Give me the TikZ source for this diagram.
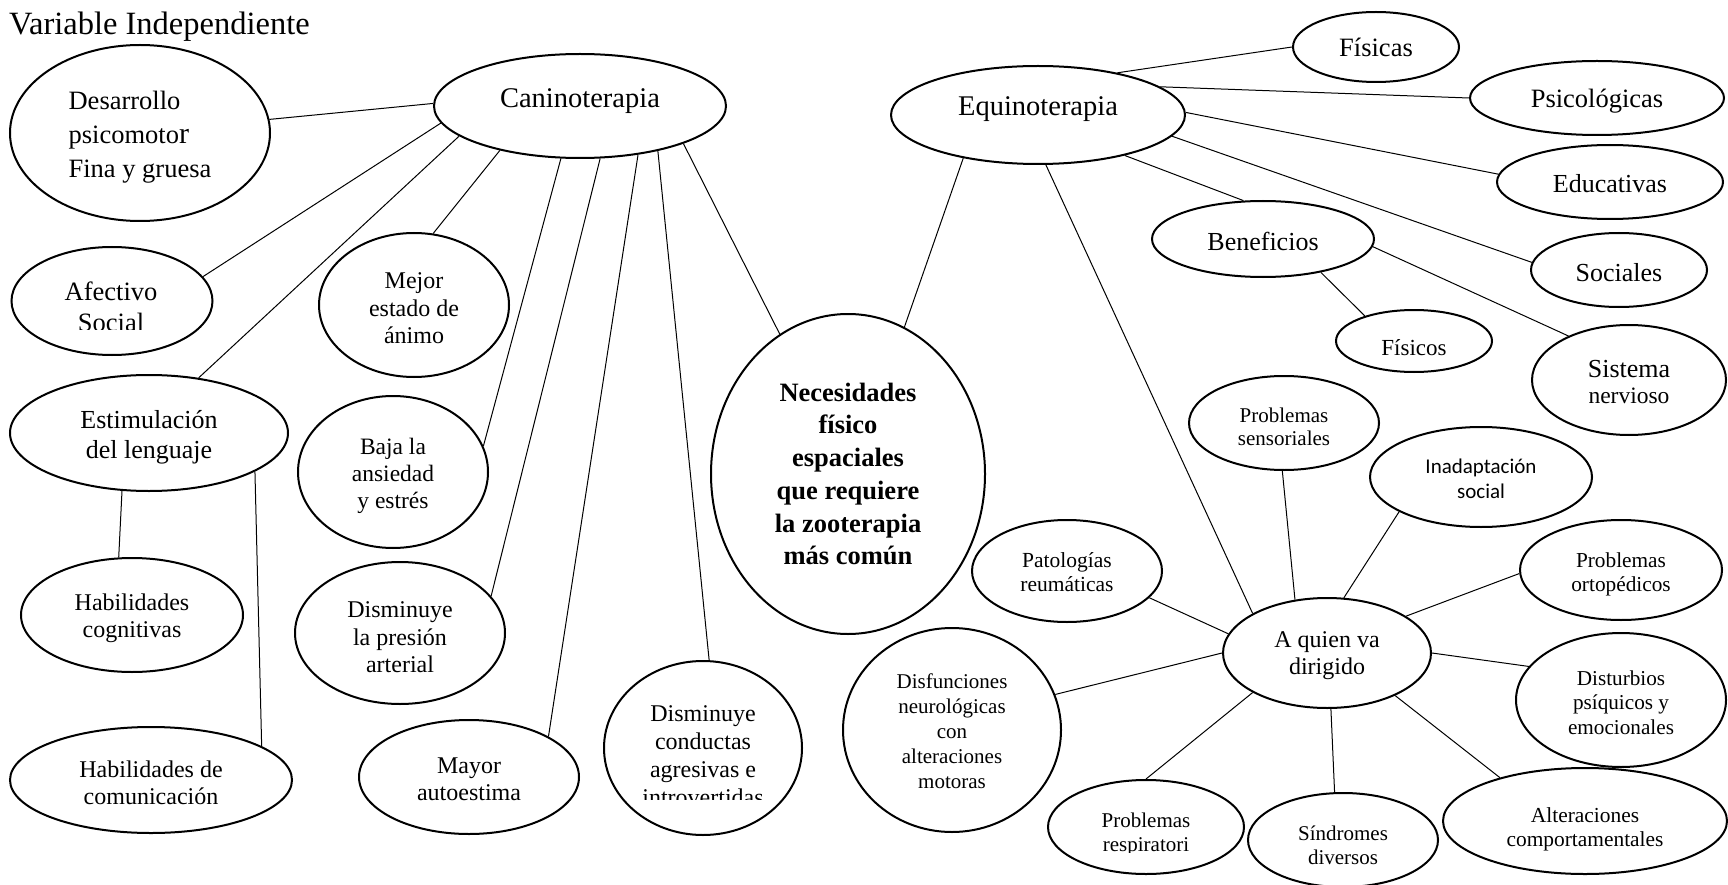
\documentclass[tikz,border=0pt]{standalone}
\usepackage{fontspec}
\setmainfont{Liberation Serif}
\newfontfamily\calibrifont{Carlito}
\usetikzlibrary{shapes.geometric}
\newcommand\myfs[2]{\fontsize{#1}{#2}\selectfont}
\begin{document}
\begin{tikzpicture}[x=1pt,y=-1pt,
  ell/.style={draw, ellipse, line width=2pt, inner sep=0pt},
  link/.style={line width=1pt},
  txt/.style={inner sep=0pt, align=center}]
\useasboundingbox[fill=white] (0,0) rectangle (1728,885);

\node[anchor=base west, inner sep=0pt, font=\myfs{32.5}{36}] (title) at (9,35) {Variable Independiente};

% ---------- Caninoterapia branch ----------
\node[ell, minimum width=260pt, minimum height=176pt] (D) at (140,133) {};
\node[txt, align=left, font=\myfs{26.5}{34}] (Dt) at (140,137.5) {Desarrollo\\psicomoto{\myfs{30}{34}r}\\Fina y gruesa};

\node[ell, minimum width=292pt, minimum height=104pt] (C) at (580,106) {};
\node[txt, font=\myfs{28.5}{32}] (Ct) at (580,101.5) {Caninoterapia};

\node[ell, minimum width=201pt, minimum height=108pt] (A) at (112,301) {};
\begin{scope}
\clip (0,0) rectangle (1728,329);
\node[txt, font=\myfs{26.5}{31}] (At) at (111,306.5) {Afectivo\\Social};
\end{scope}

\node[ell, minimum width=190pt, minimum height=144pt] (M) at (414,305) {};
\node[txt, font=\myfs{24}{27.5}] (Mt) at (414,308.5) {Mejor\\estado de\\ánimo};

\node[ell, minimum width=278pt, minimum height=116pt] (E) at (149,433) {};
\node[txt, font=\myfs{26}{29.5}] (Et) at (149,437.5) {Estimulación\\del lenguaje};

\node[ell, minimum width=222pt, minimum height=114pt] (HC) at (132,615) {};
\node[txt, font=\myfs{24}{27}] (HCt) at (132,618.5) {Habilidades\\cognitivas};

\node[ell, minimum width=282pt, minimum height=106pt] (HCom) at (151,780) {};
\node[txt, font=\myfs{24}{27}] (HComt) at (151,783) {Habilidades de\\comunicación};

\node[ell, minimum width=190pt, minimum height=152pt] (B) at (393,472) {};
\node[txt, font=\myfs{23.5}{27}] (Bt) at (393,475.5) {Baja la\\ansiedad\\y estrés};

\node[ell, minimum width=210pt, minimum height=142pt] (DP) at (400,633) {};
\node[txt, font=\myfs{24}{27.5}] (DPt) at (400,637.5) {Disminuye\\la presión\\arterial};

\node[ell, minimum width=220pt, minimum height=114pt] (MA) at (469,777) {};
\node[txt, font=\myfs{24}{27}] (MAt) at (469,779.5) {Mayor\\autoestima};

\node[ell, minimum width=198pt, minimum height=174pt] (DC) at (703,748) {};
\begin{scope}
\clip (0,0) rectangle (1728,799);
\node[txt, font=\myfs{24}{28}] (DCt) at (703,756) {Disminuye\\conductas\\agresivas e\\introvertidas};
\end{scope}

% ---------- centre ----------
\node[ell, minimum width=274pt, minimum height=320pt] (N) at (848,474) {};
\node[txt, font=\bfseries\myfs{26.5}{32.7}] (Nt) at (848,474) {Necesidades\\físico\\espaciales\\que requiere\\la zooterapia\\más común};

% ---------- Equinoterapia branch ----------
\node[ell, minimum width=294pt, minimum height=98pt] (EQ) at (1038,115) {};
\node[txt, font=\myfs{28.5}{32}] (EQt) at (1038,109.5) {Equinoterapia};

\node[ell, minimum width=166pt, minimum height=70pt] (F) at (1376,47) {};
\node[txt, font=\myfs{26.5}{30}] (Ft) at (1376,47) {Físicas};

\node[ell, minimum width=254pt, minimum height=74pt] (P) at (1597,98) {};
\node[txt, font=\myfs{26.5}{30}] (Pt) at (1597,101) {Psicológicas};

\node[ell, minimum width=226pt, minimum height=74pt] (ED) at (1610,182) {};
\node[txt, font=\myfs{26}{30}] (EDt) at (1610,184) {Educativas};

\node[ell, minimum width=176pt, minimum height=74pt] (S) at (1619,270) {};
\node[txt, font=\myfs{26}{30}] (St) at (1619,273) {Sociales};

\node[ell, minimum width=222pt, minimum height=76pt] (BE) at (1263,239) {};
\node[txt, font=\myfs{26}{30}] (BEt) at (1263,241) {Beneficios};

\node[ell, minimum width=156pt, minimum height=62pt] (FI) at (1414,341) {};
\node[txt, font=\myfs{23}{26}] (FIt) at (1414,347.5) {Físicos};

\node[ell, minimum width=194pt, minimum height=110pt] (SN) at (1629,380) {};
\node[txt, font=\myfs{26}{26}] (SNt) at (1629,382) {Sistema\\{\myfs{23.5}{26}nervioso}};

\node[ell, minimum width=190pt, minimum height=94pt] (PS) at (1284,423) {};
\node[txt, font=\myfs{21}{23}] (PSt) at (1284,427) {Problemas\\sensoriales};

\node[ell, minimum width=222pt, minimum height=100pt] (IS) at (1481,477) {};
\node[txt, font=\calibrifont\myfs{21}{24.5}] (ISt) at (1481,479) {Inadaptación\\social};

\node[ell, minimum width=190pt, minimum height=102pt] (PR) at (1067,571) {};
\node[txt, font=\myfs{21.5}{24}] (PRt) at (1067,572.5) {Patologías\\reumáticas};

\node[ell, minimum width=202pt, minimum height=100pt] (PO) at (1621,570) {};
\node[txt, font=\myfs{21.3}{24}] (POt) at (1621,574) {Problemas\\ortopédicos};

\node[ell, minimum width=208pt, minimum height=110pt] (Q) at (1327,653) {};
\node[txt, font=\myfs{24}{27}] (Qt) at (1327,656) {A quien va\\dirigido};

\node[ell, minimum width=218pt, minimum height=204pt] (DF) at (952,730) {};
\node[txt, font=\myfs{21}{25}] (DFt) at (952,731.5) {Disfunciones\\neurológicas\\con\\alteraciones\\motoras};

\node[ell, minimum width=210pt, minimum height=134pt] (DT) at (1621,700) {};
\node[txt, font=\myfs{21.2}{24.5}] (DTt) at (1621,702.5) {Disturbios\\psíquicos y\\emocionales};

\node[ell, minimum width=196pt, minimum height=94pt] (RS) at (1146,827) {};
\begin{scope}
\clip (0,0) rectangle (1728,852);
\node[txt, font=\myfs{21}{24}] (RSt) at (1146,834) {Problemas\\respiratori};
\end{scope}

\node[ell, minimum width=190pt, minimum height=94pt] (SD) at (1343,840) {};
\node[txt, font=\myfs{21}{24}] (SDt) at (1343,845) {Síndromes\\diversos};

\node[ell, minimum width=284pt, minimum height=106pt] (AC) at (1585,821) {};
\node[txt, font=\myfs{21.4}{24}] (ACt) at (1585,829) {Alteraciones\\comportamentales};

% ---------- connectors ----------
\draw[link] (D.6) -- (C.179);
\draw[link] (A.15) -- (C.187);
\draw[link] (E.48) -- (C.194);
\draw[link] (M.75) -- (C.209);
\draw[link] (B.16) -- (C.250);
\draw[link] (DP.22) -- (C.291);
\draw[link] (MA.27) -- (C.320);
\draw[link] (DC.86) -- (C.330);
\draw[link] (N.116) -- (C.340);
\draw[link] (E.245) -- (HC.103);
\draw[link] (E.340) -- (HCom.17);
\draw[link] (EQ.210) -- (N.69);
\draw[link] (EQ.279) -- (Q.152);
\draw[link] (EQ.28) -- (F.180);
\draw[link] (EQ.13) -- (P.180);
\draw[link] (EQ.1) -- (ED.176);
\draw[link] (EQ.351) -- (S.175);
\draw[link] (EQ.335) -- (BE.117);
\draw[link] (BE.330) -- (FI.153);
\draw[link] (BE.356) -- (SN.144);
\draw[link] (PS.268) -- (Q.121);
\draw[link] (IS.203) -- (Q.73);
\draw[link] (PO.182) -- (Q.25);
\draw[link] (PR.342) -- (Q.169);
\draw[link] (DF.19) -- (Q.180);
\draw[link] (DT.160) -- (Q.0);
\draw[link] (RS.90) -- (Q.208);
\draw[link] (SD.100) -- (Q.274);
\draw[link] (AC.153) -- (Q.328);
\end{tikzpicture}
\end{document}
